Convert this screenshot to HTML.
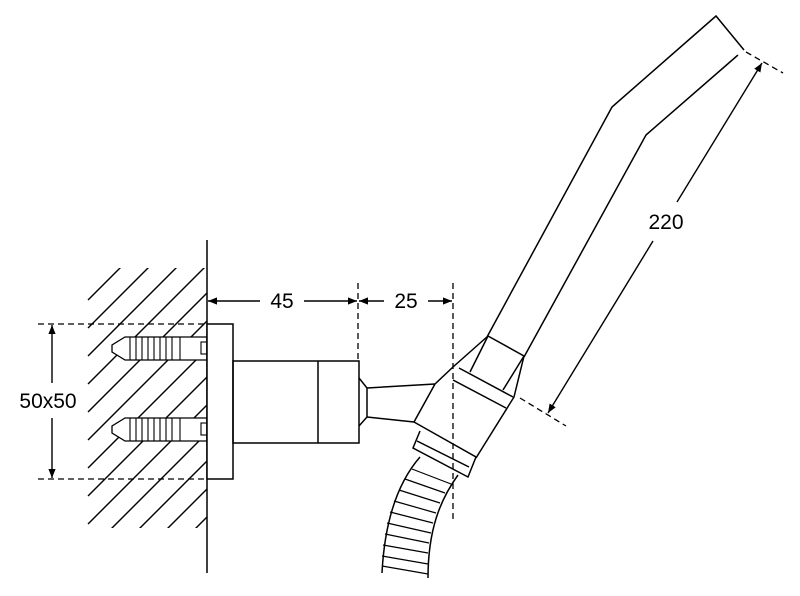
<!DOCTYPE html>
<html><head><meta charset="utf-8"><style>html,body{margin:0;padding:0;background:#fff;width:800px;height:596px;overflow:hidden}svg{display:block}</style></head>
<body>
<svg width="800" height="596" viewBox="0 0 800 596" xmlns="http://www.w3.org/2000/svg" font-family="Liberation Sans, sans-serif">
<defs>
<clipPath id="hc"><rect x="86" y="268" width="121" height="260"/></clipPath>
<marker id="ar" viewBox="0 0 10 10" refX="10" refY="5" markerWidth="9" markerHeight="9" orient="auto-start-reverse" markerUnits="userSpaceOnUse"><path d="M0,1 L10,5 L0,9 z" fill="#000"/></marker>
</defs>
<g stroke="#000" stroke-width="1.5" fill="none">
<g clip-path="url(#hc)" stroke-width="1.4">
<line x1="88" y1="300" x2="207" y2="181"/>
<line x1="88" y1="328" x2="207" y2="209"/>
<line x1="88" y1="356" x2="207" y2="237"/>
<line x1="88" y1="384" x2="207" y2="265"/>
<line x1="88" y1="412" x2="207" y2="293"/>
<line x1="88" y1="440" x2="207" y2="321"/>
<line x1="88" y1="468" x2="207" y2="349"/>
<line x1="88" y1="496" x2="207" y2="377"/>
<line x1="88" y1="524" x2="207" y2="405"/>
<line x1="88" y1="552" x2="207" y2="433"/>
<line x1="88" y1="580" x2="207" y2="461"/>
<line x1="88" y1="608" x2="207" y2="489"/>
<line x1="88" y1="636" x2="207" y2="517"/>
<line x1="88" y1="664" x2="207" y2="545"/>
</g>
<g fill="#fff" stroke-width="1.3">
<path d="M207,337 L125,337 L112,345 L112,352 L125,360 L207,360 Z"/>
<path d="M207,418 L125,418 L112,426 L112,433 L125,441 L207,441 Z"/>
</g>
<g stroke-width="1.1">
<path d="M130,337V360M136,337V360M142,337V360M148,337V360M154,337V360M160,337V360M166,337V360M172,337V360M180,337V360"/>
<path d="M130,418V441M136,418V441M142,418V441M148,418V441M154,418V441M160,418V441M166,418V441M172,418V441M180,418V441"/>
<rect x="201" y="342" width="6" height="12"/>
<rect x="201" y="423" width="6" height="12"/>
</g>
<line x1="207" y1="240" x2="207" y2="573"/>
<rect x="207" y="324" width="26" height="155" fill="#fff"/>
<rect x="233" y="361" width="126" height="82"/>
<line x1="318" y1="361" x2="318" y2="443"/>
<path d="M359,378 L367,388 L367,417 L359,426"/>
<path d="M367,388 L435,384 M367,417 L414,422 M435,384 L414,422"/>
<path d="M414,422 L476,457 L468,477 L413,448 L420,431"/>
<path d="M417,441 L469,467"/>
<path d="M435,384 L453,367 L488,336 L524,356 L514,397 L476,458"/>
<path d="M459,368 L513,397 M453,380 L506,408"/>
<path d="M488,336 L470,372 M524,356 L503,390"/>
<path d="M487,337 L612,107 L716,16 L744,50 M738,55 L646,135 L524,357"/>
<path d="M420,457 C400,480 385,515 382,573"/>
<path d="M458,475 C440,500 428,530 428,578"/>
<g stroke-width="1.2">
<line x1="412" y1="469" x2="451" y2="484"/>
<line x1="405" y1="479" x2="445" y2="493"/>
<line x1="399" y1="490" x2="440" y2="503"/>
<line x1="394" y1="501" x2="436" y2="513"/>
<line x1="390" y1="512" x2="433" y2="523"/>
<line x1="387" y1="523" x2="431" y2="533"/>
<line x1="385" y1="534" x2="429" y2="543"/>
<line x1="383" y1="545" x2="428" y2="553"/>
<line x1="382" y1="556" x2="428" y2="564"/>
<line x1="382" y1="566" x2="428" y2="574"/>
</g>
<g stroke-dasharray="6,4" stroke-width="1.3">
<line x1="38" y1="324" x2="207" y2="324"/>
<line x1="38" y1="479" x2="207" y2="479"/>
<line x1="358" y1="283" x2="358" y2="361"/>
<line x1="453" y1="283" x2="453" y2="522"/>
<line x1="746" y1="52" x2="783" y2="73"/>
<line x1="520" y1="398" x2="566" y2="426"/>
</g>
<g stroke-width="1.4">
<line x1="52" y1="325" x2="52" y2="383" marker-start="url(#ar)"/>
<line x1="52" y1="418" x2="52" y2="478" marker-end="url(#ar)"/>
<line x1="208" y1="301" x2="260" y2="301" marker-start="url(#ar)"/>
<line x1="304" y1="301" x2="357" y2="301" marker-end="url(#ar)"/>
<line x1="359" y1="301" x2="384" y2="301" marker-start="url(#ar)"/>
<line x1="428" y1="301" x2="452" y2="301" marker-end="url(#ar)"/>
<line x1="762" y1="63" x2="677" y2="202" marker-start="url(#ar)"/>
<line x1="653" y1="241" x2="548" y2="413" marker-end="url(#ar)"/>
</g>
</g>
<g font-size="21" fill="#000" text-anchor="middle">
<text x="48" y="408">50x50</text>
<text x="282" y="308">45</text>
<text x="406" y="308">25</text>
<text x="666" y="229">220</text>
</g>
</svg>
</body></html>
